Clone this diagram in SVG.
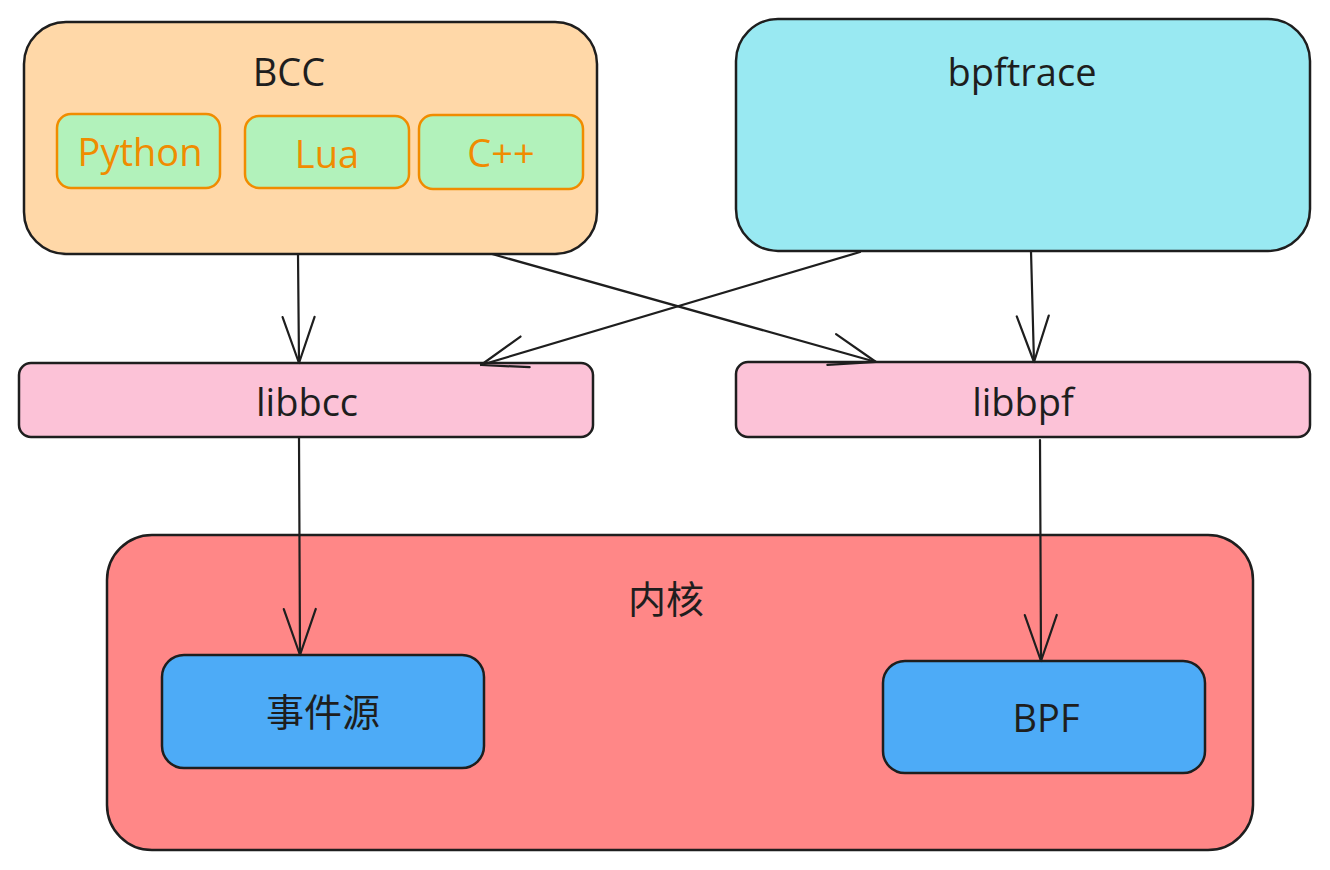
<svg xmlns="http://www.w3.org/2000/svg" width="1330" height="870" viewBox="0 0 1330 870">
<defs>
<style>
.box{stroke:#1e1e1e;stroke-width:2.5}
.lang{fill:#b2f2bb;stroke:#f08c00;stroke-width:2.5}
.t{font-family:"Open Sans","Noto Sans","Noto Sans CJK SC",sans-serif;font-size:38px;fill:#1e1e1e;text-anchor:middle;dominant-baseline:central}
.tl{fill:#f08c00}
.conn{fill:none;stroke:#1e1e1e;stroke-width:2.2;stroke-linecap:round}
</style>
<marker id="ah" markerUnits="userSpaceOnUse" viewBox="-50 -20 54 40" refX="0" refY="0" markerWidth="54" markerHeight="40" orient="auto">
<path d="M-46,-16 L0,0 L-46,16" fill="none" stroke="#1e1e1e" stroke-width="2.2" stroke-linecap="round" stroke-linejoin="round"/>
</marker>
</defs>
<rect width="1330" height="870" fill="#ffffff"/>
<g id="kernel">
<rect class="box" x="107" y="535" width="1146" height="315" rx="45" fill="#ff8787"/>
<text class="t" x="666" y="598">内核</text>
</g>
<g id="bcc">
<rect class="box" x="24" y="22" width="573" height="232" rx="42" fill="#ffd8a8"/>
<text class="t" x="289" y="71">BCC</text>
</g>
<g id="python">
<rect class="lang" x="57" y="114" width="163" height="74" rx="14"/>
<text class="t tl" x="140" y="151">Python</text>
</g>
<g id="lua">
<rect class="lang" x="245" y="116" width="164" height="72" rx="14"/>
<text class="t tl" x="327" y="153">Lua</text>
</g>
<g id="cpp">
<rect class="lang" x="419" y="115" width="164" height="74" rx="14"/>
<text class="t tl" x="501" y="152">C++</text>
</g>
<g id="bpftrace">
<rect class="box" x="736" y="19" width="574" height="232" rx="42" fill="#99e9f2"/>
<text class="t" x="1022" y="71">bpftrace</text>
</g>
<g id="libbcc">
<rect class="box" x="19" y="363" width="574" height="74" rx="12" fill="#fcc2d7"/>
<text class="t" x="307" y="401">libbcc</text>
</g>
<g id="libbpf">
<rect class="box" x="736" y="362" width="574" height="75" rx="12" fill="#fcc2d7"/>
<text class="t" x="1023" y="401">libbpf</text>
</g>
<g id="event">
<rect class="box" x="162" y="655" width="322" height="113" rx="22" fill="#4dabf7"/>
<text class="t" x="323" y="711">事件源</text>
</g>
<g id="bpf">
<rect class="box" x="883" y="661" width="322" height="112" rx="22" fill="#4dabf7"/>
<text class="t" x="1046" y="717">BPF</text>
</g>
<g id="connectors">
<path class="conn" d="M298,254 L299,363" marker-end="url(#ah)"/>
<path class="conn" d="M492,254 L876,362" marker-end="url(#ah)"/>
<path class="conn" d="M860,252 L481,365" marker-end="url(#ah)"/>
<path class="conn" d="M1031,251 L1034,362" marker-end="url(#ah)"/>
<path class="conn" d="M299,437 L300,655" marker-end="url(#ah)"/>
<path class="conn" d="M1040,440 L1041,661" marker-end="url(#ah)"/>
</g>
</svg>
